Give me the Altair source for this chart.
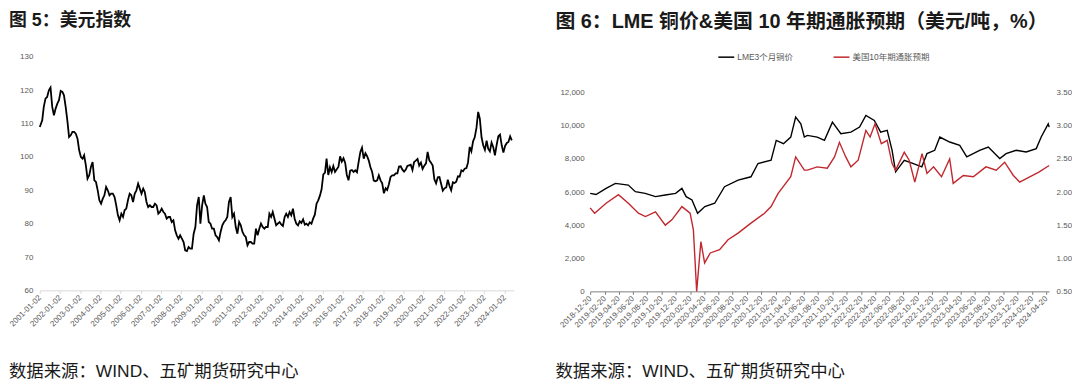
import altair as alt
import pandas as pd

# ---------------- Figure 5: US dollar index (monthly readings) ----------------
dxy_values = [
    # 2001
    109.0, 111.0, 115.0, 117.5, 118.0, 120.0, 120.8, 115.0, 112.5, 114.5, 116.0, 117.0,
    # 2002
    119.8, 119.5, 118.5, 115.0, 111.0, 106.0, 106.5, 107.5, 107.5, 107.0, 105.5, 102.0,
    # 2003
    100.0, 99.5, 100.5, 97.5, 93.5, 94.5, 97.0, 98.5, 93.0, 92.5, 90.0, 87.0,
    # 2004
    86.0, 87.5, 88.5, 91.0, 90.0, 88.5, 89.0, 89.0, 88.0, 85.5, 82.5, 81.0,
    # 2005
    83.0, 82.0, 84.0, 84.5, 87.0, 89.0, 88.5, 86.5, 89.0, 90.0, 92.0, 90.5,
    # 2006
    89.0, 90.5, 89.5, 86.5, 85.0, 85.5, 85.0, 85.0, 86.0, 85.5, 83.0, 83.5,
    # 2007
    84.5, 83.5, 83.0, 81.5, 82.0, 82.0, 80.5, 81.0, 78.0, 76.5, 75.5, 76.5,
    # 2008
    75.5, 74.5, 72.0, 71.8, 73.0, 72.5, 72.5, 77.0, 79.0, 85.5, 88.0, 80.0,
    # 2009
    85.5, 88.5, 86.0, 85.0, 80.5, 80.0, 78.5, 78.5, 76.5, 76.0, 75.0, 77.5,
    # 2010
    79.5, 80.5, 81.0, 82.0, 86.5, 88.0, 82.0, 83.0, 79.0, 77.0, 80.5, 79.5,
    # 2011
    77.5, 76.5, 76.0, 73.5, 74.5, 74.5, 74.0, 74.0, 78.5, 76.5, 78.5, 80.0,
    # 2012
    79.0, 78.5, 79.0, 79.0, 83.0, 82.0, 83.5, 81.5, 79.5, 80.0, 80.5, 79.8,
    # 2013
    79.3, 82.0, 83.0, 82.0, 83.5, 82.5, 84.5, 81.5, 80.0, 79.5, 80.7, 80.2,
    # 2014
    81.3, 79.7, 80.0, 79.5, 80.4, 80.0, 81.5, 82.7, 86.0, 87.0, 88.4, 90.3,
    # 2015
    94.8, 95.3, 99.5, 94.6, 96.9, 95.5, 97.3, 95.5, 96.3, 97.0, 100.2, 98.6,
    # 2016
    99.6, 98.2, 94.6, 93.0, 95.9, 96.1, 95.5, 96.0, 95.4, 98.5, 101.5, 102.8,
    # 2017
    99.5, 101.1, 100.3, 99.0, 97.0, 95.6, 92.9, 92.7, 93.0, 94.5, 93.0, 92.1,
    # 2018
    89.1, 90.6, 90.1, 91.8, 94.0, 94.5, 94.5, 95.1, 95.1, 97.1, 97.2, 96.2,
    # 2019
    95.6, 96.2, 97.3, 97.5, 97.7, 96.1, 98.5, 98.9, 99.4, 97.4, 98.3, 96.4,
    # 2020
    97.4, 98.1, 101.5, 99.0, 98.3, 97.4, 93.3, 92.1, 93.9, 94.0, 91.9, 89.9,
    # 2021
    90.6, 90.9, 93.2, 91.3, 90.0, 92.4, 92.2, 92.6, 94.2, 94.1, 96.0, 95.7,
    # 2022
    96.5, 96.7, 98.3, 103.0, 101.7, 104.7, 105.9, 108.7, 113.5, 111.5, 105.9, 103.5,
    # 2023
    102.1, 104.9, 102.5, 101.7, 104.3, 102.9, 100.5, 103.6, 106.2, 106.7, 103.5, 101.3,
    # 2024
    103.3, 104.2, 104.5, 106.2, 105.0,
]
dxy_dates = []
for i in range(len(dxy_values)):
    yy, mm = 2001 + i // 12, i % 12 + 1
    dxy_dates.append("2001-01-02" if i == 0 else f"{yy}-{mm:02d}-15")
dxy_tick_years = list(range(2001, 2025))

# ---------------- Figure 6: LME copper & US 10Y breakeven ----------------
cu_dates = [
    "2018-12-20", "2019-01-14", "2019-02-26", "2019-04-07", "2019-06-01", "2019-07-01",
    "2019-08-12", "2019-09-25", "2019-11-06", "2019-12-20", "2020-01-16", "2020-02-03",
    "2020-02-28", "2020-03-23", "2020-04-23", "2020-06-04", "2020-07-16", "2020-09-12",
    "2020-11-06", "2020-12-06", "2021-01-31", "2021-02-22", "2021-03-25", "2021-04-25",
    "2021-05-16", "2021-06-07", "2021-06-22", "2021-07-05", "2021-08-16", "2021-09-16",
    "2021-10-20", "2021-11-25", "2022-01-07", "2022-02-13", "2022-03-12", "2022-04-17",
    "2022-05-14", "2022-06-11", "2022-07-02", "2022-07-17", "2022-08-23", "2022-10-01",
    "2022-11-06", "2022-11-28", "2022-12-31", "2023-01-22", "2023-03-05", "2023-04-17",
    "2023-05-17", "2023-07-11", "2023-08-17", "2023-10-05", "2023-11-01", "2023-12-14",
    "2024-01-26", "2024-03-09", "2024-03-30", "2024-04-29", "2024-05-03",
]
cu_values = [
    5920, 5850, 6220, 6520, 6420, 6020,
    5920, 5720, 5820, 5920, 6220, 5720,
    5520, 4720, 5120, 5320, 6320, 6720,
    6920, 7720, 7920, 9120, 8920, 9320,
    10520, 10120, 9320, 9420, 9320, 9120,
    10220, 9520, 9620, 9920, 10620, 10320,
    9620, 9720, 8520, 7220, 7920, 7720,
    7520, 8320, 8520, 9320, 9020, 8820,
    8120, 8520, 8720, 8020, 8320, 8520,
    8420, 8620, 9320, 10120, 9920,
]
ie_dates = [
    "2018-12-20", "2019-01-08", "2019-02-26", "2019-04-20", "2019-06-01", "2019-07-14",
    "2019-08-13", "2019-09-25", "2019-11-06", "2019-12-04", "2020-01-16", "2020-02-20",
    "2020-03-05", "2020-03-19", "2020-04-06", "2020-04-22", "2020-05-16", "2020-06-25",
    "2020-07-31", "2020-09-12", "2020-11-06", "2021-01-03", "2021-01-31", "2021-03-02",
    "2021-04-25", "2021-05-16", "2021-06-22", "2021-07-05", "2021-08-16", "2021-09-28",
    "2021-10-29", "2021-11-19", "2021-12-16", "2022-01-07", "2022-02-07", "2022-03-12",
    "2022-03-30", "2022-04-20", "2022-05-17", "2022-06-11", "2022-07-02", "2022-07-17",
    "2022-08-23", "2022-09-13", "2022-10-07", "2022-11-07", "2022-11-28", "2022-12-26",
    "2023-01-29", "2023-03-05", "2023-03-20", "2023-05-02", "2023-06-14", "2023-08-07",
    "2023-09-20", "2023-10-26", "2023-12-02", "2023-12-29", "2024-02-10", "2024-03-20",
    "2024-05-03",
]
ie_values = [
    1.76, 1.68, 1.83, 1.96, 1.83, 1.68,
    1.63, 1.70, 1.50, 1.58, 1.78, 1.68,
    1.43, 0.50, 1.25, 0.93, 1.08, 1.13,
    1.28, 1.38, 1.53, 1.68, 1.78, 1.98,
    2.23, 2.53, 2.33, 2.33, 2.38, 2.36,
    2.53, 2.75, 2.53, 2.38, 2.48, 2.93,
    2.83, 3.03, 2.73, 2.78, 2.43, 2.33,
    2.60, 2.48, 2.15, 2.58, 2.28, 2.38,
    2.23, 2.50, 2.13, 2.25, 2.23, 2.38,
    2.33, 2.45, 2.25, 2.15, 2.23, 2.30,
    2.40,
]
series_names = ["LME3个月铜价", "美国10年期通胀预期"]
series_colors = ["#000000", "#c0282e"]

title5 = "图 5：美元指数"
title6 = "图 6：LME 铜价&美国 10 年期通胀预期（美元/吨，%）"
source_txt = "数据来源：WIND、五矿期货研究中心"

# ---------------- styles ----------------
LAB_FONT = "'Liberation Sans', 'Noto Sans CJK SC', sans-serif"
LAB_COLOR = "#595959"


def text_layer(txt, x, y, size, weight):
    return alt.Chart(pd.DataFrame({"t": [txt]})).mark_text(
        align="left", baseline="top", fontSize=size, fontWeight=weight,
        font=LAB_FONT, color="#1a1a1a"
    ).encode(x=alt.value(x), y=alt.value(y), text="t:N")


# ---------------- left panel ----------------
dxy_df = pd.DataFrame({"date": dxy_dates, "value": dxy_values})
left_x = alt.X(
    "date:T",
    scale=alt.Scale(type="utc", domain=[
        alt.DateTime(year=2001, month=1, date=2, utc=True),
        alt.DateTime(year=2024, month=6, date=18, utc=True)]),
    axis=alt.Axis(
        values=[alt.DateTime(year=y, month=1, date=2, utc=True) for y in dxy_tick_years],
        labelExpr="utcFormat(datum.value, '%Y-%m-%d')",
        labelAngle=-45, labelAlign="right", labelBaseline="middle",
        labelFontSize=8, labelFont=LAB_FONT, labelColor=LAB_COLOR,
        labelPadding=3, labelOverlap=False, labelFlush=False, labelBound=False,
        domainColor="#d9d9d9", tickColor="#d9d9d9", tickSize=3,
        grid=False, title=None),
)
left_line = alt.Chart(dxy_df).mark_line(color="#000000", strokeWidth=1.8).encode(
    x=left_x,
    y=alt.Y("value:Q", scale=alt.Scale(domain=[60, 130], nice=False, zero=False),
            axis=alt.Axis(values=list(range(60, 131, 10)), domain=False, ticks=False,
                          grid=False, labelFontSize=8, labelFont=LAB_FONT,
                          labelColor=LAB_COLOR, labelPadding=7, title=None)),
)
left = alt.layer(
    left_line,
    text_layer(title5, -31, -45, 18, "bold"),
    text_layer(source_txt, -31, 308, 17.5, "normal"),
).properties(width=477, height=235)

# ---------------- right panel ----------------
cu_df = pd.DataFrame({"date": cu_dates, "value": cu_values, "series": series_names[0]})
ie_df = pd.DataFrame({"date": ie_dates, "value": ie_values, "series": series_names[1]})

tick_months = []
for k in range(33):
    tot = 2018 * 12 + 11 + 2 * k
    tick_months.append((tot // 12, tot % 12 + 1))

RIGHT_H = 236
right_x = alt.X(
    "date:T",
    scale=alt.Scale(type="utc", domain=[
        alt.DateTime(year=2018, month=12, date=20, utc=True),
        alt.DateTime(year=2024, month=5, date=3, utc=True)]),
    axis=alt.Axis(
        values=[alt.DateTime(year=y, month=m, date=20, utc=True) for y, m in tick_months],
        labelExpr="utcFormat(datum.value, '%Y-%m-%d')",
        labelAngle=-45, labelAlign="right", labelBaseline="middle",
        labelFontSize=8, labelFont=LAB_FONT, labelColor=LAB_COLOR,
        labelPadding=3, labelOverlap=False, labelFlush=False, labelBound=False,
        domainColor="#7f7f7f", tickColor="#7f7f7f", tickSize=3,
        grid=False, title=None),
)
color_enc = alt.Color(
    "series:N",
    scale=alt.Scale(domain=series_names, range=series_colors),
    legend=alt.Legend(
        orient="none", legendX=128, legendY=-9, direction="horizontal", title=None,
        symbolType="stroke", symbolSize=256, symbolStrokeWidth=1.5,
        labelFontSize=8.5, labelFont=LAB_FONT, labelColor=LAB_COLOR,
        columnPadding=37, labelOffset=2),
)
cu_line = alt.Chart(cu_df).mark_line(strokeWidth=1.4).encode(
    x=right_x,
    y=alt.Y("value:Q", scale=alt.Scale(domain=[0, 12000], nice=False, range=[RIGHT_H, 36]),
            axis=alt.Axis(values=list(range(0, 12001, 2000)),
                          labelExpr="format(datum.value, ',.0f')",
                          domain=False, ticks=False, grid=False, labelFontSize=8,
                          labelFont=LAB_FONT, labelColor=LAB_COLOR, labelPadding=6,
                          title=None, orient="left")),
    color=color_enc,
)
ie_line = alt.Chart(ie_df).mark_line(strokeWidth=1.4).encode(
    x=right_x,
    y=alt.Y("value:Q", scale=alt.Scale(domain=[0.5, 3.5], nice=False, zero=False,
                                       range=[RIGHT_H, 36]),
            axis=alt.Axis(values=[0.5, 1.0, 1.5, 2.0, 2.5, 3.0, 3.5],
                          labelExpr="format(datum.value, '.2f')",
                          domain=False, ticks=False, grid=False, labelFontSize=8,
                          labelFont=LAB_FONT, labelColor=LAB_COLOR, labelPadding=7,
                          title=None, orient="right")),
    color=color_enc,
)
right = alt.layer(
    alt.layer(cu_line, ie_line).resolve_scale(y="independent"),
    text_layer(title6, -35, -45, 20, "bold"),
    text_layer(source_txt, -35, 308, 17.5, "normal"),
).properties(width=462, height=RIGHT_H)

chart = (
    alt.hconcat(left, right, spacing=40)
    .resolve_scale(color="independent")
    .resolve_legend(color="independent")
    .properties(padding={"left": 0, "top": 3, "right": 0, "bottom": 0})
    .configure_view(stroke=None)
)

chart.save("out.html", embed_options={"renderer": "svg", "actions": False})
